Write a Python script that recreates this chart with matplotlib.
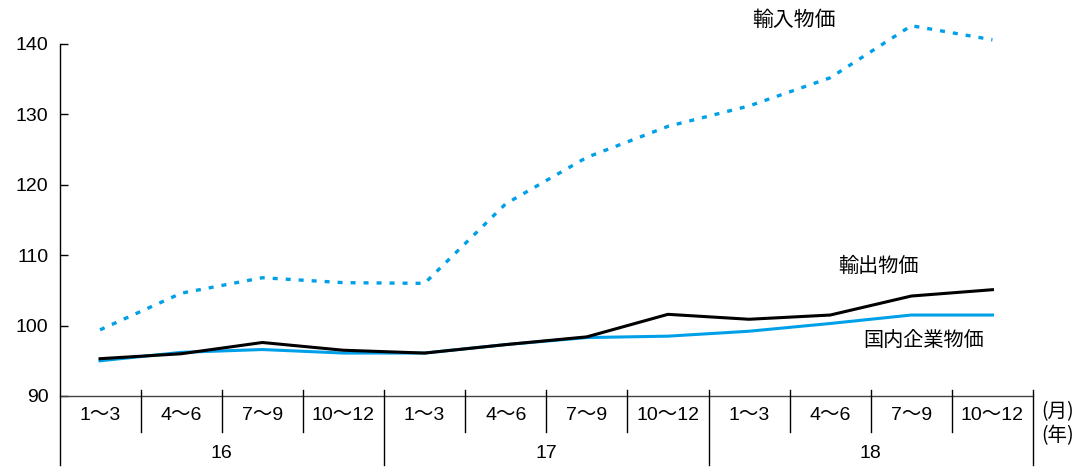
import matplotlib
matplotlib.use("Agg")
import matplotlib.pyplot as plt
import numpy as np

plt.rcParams['font.family'] = ['Liberation Sans', 'Noto Sans CJK JP']

# Quarterly price indices (2016-2018)
years = ["16", "17", "18"]
quarters = ["1〜3", "4〜6", "7〜9", "10〜12"]
import_prices = [99.4, 104.6, 106.8, 106.1, 106.0, 117.3, 123.9, 128.3, 131.2, 135.2, 142.6, 140.6]
export_prices = [95.3, 96.0, 97.6, 96.5, 96.1, 97.3, 98.4, 101.6, 100.9, 101.5, 104.2, 105.1]
domestic_prices = [95.0, 96.2, 96.6, 96.1, 96.1, 97.3, 98.3, 98.5, 99.2, 100.3, 101.5, 101.5]
yticks = [90, 100, 110, 120, 130, 140]

series_labels = {"import": "輸入物価", "export": "輸出物価", "domestic": "国内企業物価"}
month_unit, year_unit = "(月)", "(年)"

BLUE = "#00a0e9"
W, H = 1085, 470
fig = plt.figure(figsize=(W / 100, H / 100), dpi=100)
x0, x1, ytop, ybot = 59.5, 1033, 44, 396
ax = fig.add_axes([x0 / W, 1 - ybot / H, (x1 - x0) / W, (ybot - ytop) / H])

n = len(years) * len(quarters)
xs = np.arange(n)
ax.set_xlim(-0.5, n - 0.5)
ax.set_ylim(90, 140)

ax.plot(xs, domestic_prices, color=BLUE, lw=2.2, clip_on=False, solid_joinstyle='round')
ax.plot(xs, export_prices, color="black", lw=2.2, clip_on=False, solid_joinstyle='round')
ax.plot(xs, import_prices, color=BLUE, lw=2.4, linestyle=(0, (1.5, 2.4)),
        clip_on=False, dash_capstyle='butt')

for s in ["top", "right"]:
    ax.spines[s].set_visible(False)
ax.spines["left"].set_visible(False)
ax.spines["bottom"].set_linewidth(1.0)
ax.spines["bottom"].set_color("#444444")

ax.set_yticks(yticks)
ax.set_yticklabels([str(v) for v in yticks], fontsize=14)
ax.tick_params(axis='y', direction='in', length=6, width=1.0, pad=8, colors="black")
ax.set_xticks([])

# pixel-based helpers for the category table below the axis
def fx(px):
    return px / W

def fy(py):
    return 1 - py / H

cw = (x1 - x0) / n
# left axis line extending down through the category table
fig.add_artist(plt.Line2D([fx(x0), fx(x0)], [fy(ytop), fy(465)], color="black", lw=1.0))
for i in range(1, n + 1):
    xp = x0 + cw * i
    if i % 4 == 0:
        fig.add_artist(plt.Line2D([fx(xp), fx(xp)], [fy(390), fy(465)], color="black", lw=1.0))
    else:
        fig.add_artist(plt.Line2D([fx(xp), fx(xp)], [fy(390), fy(432)], color="black", lw=1.0))

for i in range(n):
    xc = x0 + cw * (i + 0.5)
    fig.text(fx(xc), fy(415), quarters[i % 4], ha="center", va="center", fontsize=14)
for j, yr in enumerate(years):
    xc = x0 + cw * (4 * j + 2)
    fig.text(fx(xc), fy(453), yr, ha="center", va="center", fontsize=14)

fig.text(fx(1058), fy(412), month_unit, ha="center", va="center", fontsize=14,
         family=['Noto Sans CJK JP'])
fig.text(fx(1058), fy(436), year_unit, ha="center", va="center", fontsize=14,
         family=['Noto Sans CJK JP'])

fig.text(fx(794), fy(20), series_labels["import"], ha="center", va="center", fontsize=15)
fig.text(fx(878), fy(266), series_labels["export"], ha="center", va="center", fontsize=14.5)
fig.text(fx(924), fy(340), series_labels["domestic"], ha="center", va="center", fontsize=14.5)

fig.savefig("out.png", dpi=100, facecolor="white")
